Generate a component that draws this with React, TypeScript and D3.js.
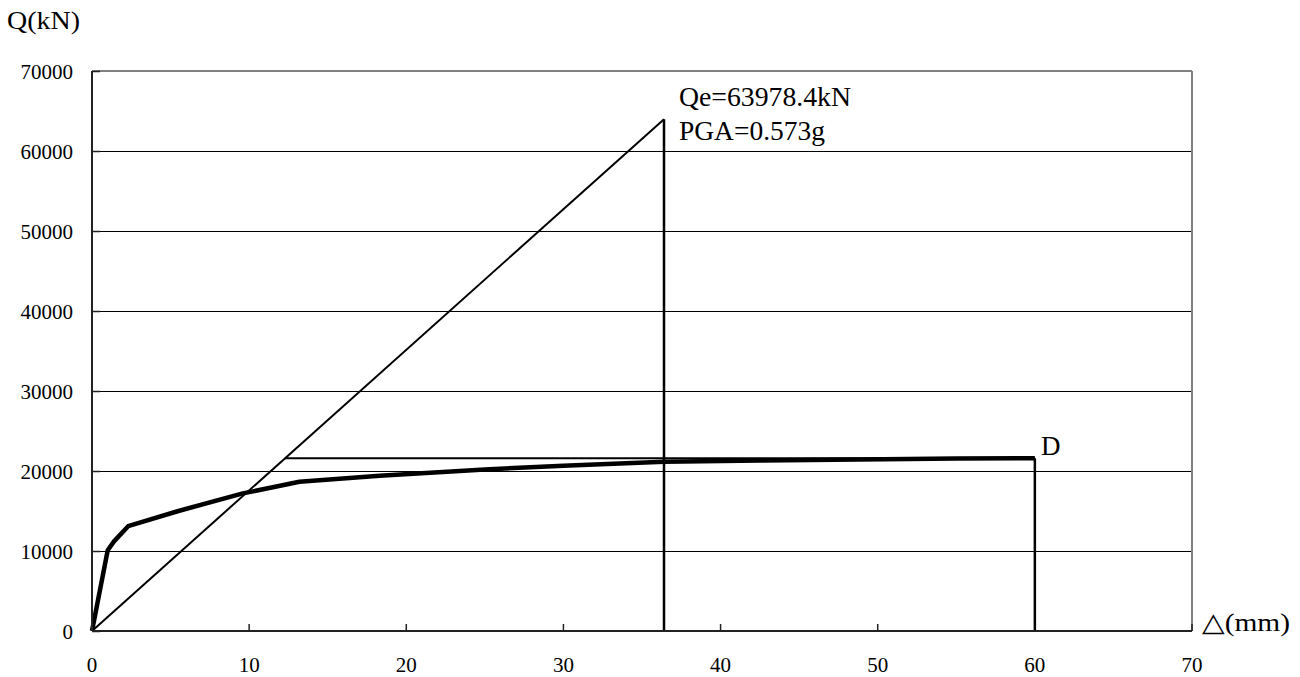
import React from "react";
import * as d3 from "d3";

const xTicks = [0, 10, 20, 30, 40, 50, 60, 70];
const yTicks = [0, 10000, 20000, 30000, 40000, 50000, 60000, 70000];

// capacity curve (thick)
const curveX = [0, 1.0, 1.4, 2.3, 5.5, 9.6, 13.2, 18.3, 25, 30, 36.4, 42.5, 55, 60];
const curveY = [0, 10100, 11200, 13100, 15000, 17200, 18650, 19400, 20200, 20650, 21150, 21300, 21550, 21600];

// elastic line and equivalent
const Qe = 63978.4;
const dE = 36.4;
const Qy = 21600;
const dU = 60;

export default function App() {
  const W = 1300, H = 677;
  const left = 92, right = 1192, top = 71, bottom = 631;
  const x = d3.scaleLinear().domain([0, 70]).range([left, right]);
  const y = d3.scaleLinear().domain([0, 70000]).range([bottom, top]);
  const line = d3.line<[number, number]>().x(d => x(d[0])).y(d => y(d[1]));
  const curvePts: [number, number][] = curveX.map((v, i) => [v, curveY[i]]);
  const dYield = Qy / (Qe / dE);
  const font = "Liberation Serif, DejaVu Serif, serif";

  return (
    <svg width={W} height={H} style={{ position: "absolute", left: 0, top: 0, background: "#fff", fontFamily: font }}>
      {/* gridlines */}
      {yTicks.slice(1, -1).map(t => (
        <line key={t} x1={left} x2={right} y1={y(t) + 0.5} y2={y(t) + 0.5} stroke="#000" strokeWidth={1} />
      ))}
      {/* frame top/right gray */}
      <line x1={left} x2={right} y1={top} y2={top} stroke="#808080" strokeWidth={2} />
      <line x1={right} x2={right} y1={top} y2={bottom} stroke="#808080" strokeWidth={2} />
      {/* y tick marks */}
      {yTicks.map(t => (
        <line key={"yt" + t} x1={left} x2={left + 8} y1={y(t) + 0.5} y2={y(t) + 0.5} stroke="#222" strokeWidth={1.5} />
      ))}
      {/* x tick marks */}
      {xTicks.map(t => (
        <line key={"xt" + t} x1={x(t)} x2={x(t)} y1={bottom} y2={bottom - 7} stroke="#222" strokeWidth={1.5} />
      ))}
      {/* elastic diagonal */}
      <path d={line([[0, 0], [dE, Qe]]) || ""} stroke="#000" strokeWidth={2} fill="none" />
      <path d={line([[dE, Qe], [dE, 0]]) || ""} stroke="#000" strokeWidth={2.5} fill="none" />
      {/* equivalent horizontal */}
      <path d={line([[dYield, Qy], [dU, Qy]]) || ""} stroke="#000" strokeWidth={2} fill="none" />
      <path d={line([[dU, Qy], [dU, 0]]) || ""} stroke="#000" strokeWidth={2.5} fill="none" />
      {/* capacity curve */}
      <path d={line(curvePts) || ""} stroke="#000" strokeWidth={4.5} fill="none" strokeLinejoin="round" />
      {/* axes */}
      <line x1={left} x2={left} y1={top} y2={bottom} stroke="#222" strokeWidth={2} />
      <line x1={left} x2={right} y1={bottom} y2={bottom} stroke="#222" strokeWidth={2} />
      {/* y labels */}
      {yTicks.map(t => (
        <text key={"yl" + t} x={73} y={y(t) + 7.5} textAnchor="end" fontSize={21} fill="#000" fontFamily={font}>{t}</text>
      ))}
      {/* x labels */}
      {xTicks.map(t => (
        <text key={"xl" + t} x={x(t)} y={672} textAnchor="middle" fontSize={21} fill="#000" fontFamily={font}>{t}</text>
      ))}
      <text x={7} y={29} fontSize={26} fill="#000" fontFamily={font} textLength={73} lengthAdjust="spacingAndGlyphs">Q(kN)</text>
      <text x={1202} y={631} fontSize={26} fill="#000" fontFamily={font} textLength={88} lengthAdjust="spacingAndGlyphs">△(mm)</text>
      <text x={679} y={106} fontSize={28} fill="#000" fontFamily={font} textLength={172} lengthAdjust="spacingAndGlyphs">Qe=63978.4kN</text>
      <text x={679} y={140} fontSize={28} fill="#000" fontFamily={font} textLength={146} lengthAdjust="spacingAndGlyphs">PGA=0.573g</text>
      <text x={1041} y={455} fontSize={27} fill="#000" fontFamily={font}>D</text>
    </svg>
  );
}
